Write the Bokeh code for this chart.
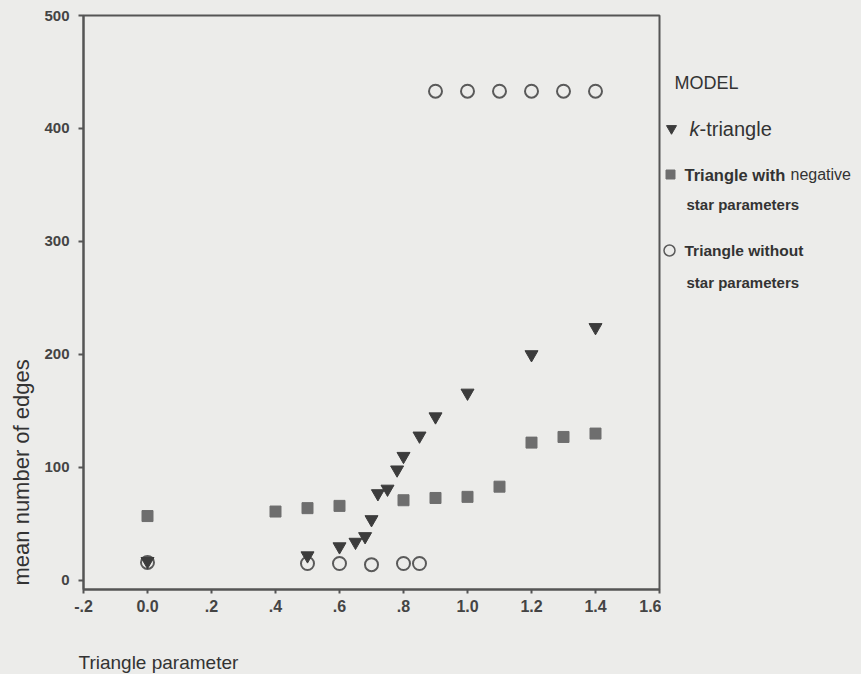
from bokeh.plotting import figure
from bokeh.models import FixedTicker, Range1d
from bokeh.layouts import row, column
from bokeh.core.properties import value
from bokeh.embed import file_html
from bokeh.resources import INLINE

# ---- data -------------------------------------------------------------
k_tri_x = [0.0, 0.5, 0.6, 0.65, 0.68, 0.7, 0.72, 0.75, 0.78, 0.8, 0.85, 0.9, 1.0, 1.2, 1.4]
k_tri_y = [17, 22, 30, 34, 39, 54, 77, 81, 98, 110, 128, 145, 166, 200, 224]

neg_star_x = [0.0, 0.4, 0.5, 0.6, 0.8, 0.9, 1.0, 1.1, 1.2, 1.3, 1.4]
neg_star_y = [57, 61, 64, 66, 71, 73, 74, 83, 122, 127, 130]

no_star_x = [0.0, 0.5, 0.6, 0.7, 0.8, 0.85, 0.9, 1.0, 1.1, 1.2, 1.3, 1.4]
no_star_y = [16, 15, 15, 14, 15, 15, 433, 433, 433, 433, 433, 433]

x_ticks = [-0.2, 0.0, 0.2, 0.4, 0.6, 0.8, 1.0, 1.2, 1.4, 1.6]
x_tick_labels = ["-.2", "0.0", ".2", ".4", ".6", ".8", "1.0", "1.2", "1.4", "1.6"]
y_ticks = [0, 100, 200, 300, 400, 500]

# ---- page geometry (pixels) --------------------------------------------
W, H = 861, 674
TOP_H = 640            # height of the row holding the chart
LEFT_W = 40            # strip carrying the y title
LEG_W = 200            # strip carrying the legend
MAIN_W = W - LEFT_W - LEG_W
FL, FR, FT, FB = 83, 659, 15, 589   # plot frame edges on the page

BG = "#ececea"
INK = "#3c3c3c"
SQ = "#6e6e6e"
RING = "#5a5a5a"
TXT = "#333333"
FONT = "Liberation Sans"


def strip(x0, x1, y0, y1, top=0, bottom=0):
    """A bare figure whose data coordinates are page pixels.

    (y0, y1) is the page span of its drawing frame; top/bottom are the
    empty borders above and below that frame.
    """
    f = figure(width=x1 - x0, height=(y1 - y0) + top + bottom,
               output_backend="svg", toolbar_location=None,
               x_range=Range1d(x0, x1), y_range=Range1d(y1, y0),
               x_axis_type=None, y_axis_type=None,
               min_border_left=0, min_border_right=0,
               min_border_top=top, min_border_bottom=bottom)
    f.background_fill_color = BG
    f.border_fill_color = BG
    f.outline_line_color = None
    f.grid.visible = False
    return f


def put(f, x, y, text, size, style="normal", align="left", angle=0.0, color=TXT):
    f.text(x=[x], y=[y], text=[text], text_font=value(FONT),
           text_font_size=size, text_font_style=style, text_align=align,
           text_baseline="middle", angle=angle, text_color=color)


# ---- main chart ---------------------------------------------------------
p = figure(width=MAIN_W, height=TOP_H, output_backend="svg", toolbar_location=None,
           x_range=Range1d(-0.2, 1.6), y_range=Range1d(-8, 500),
           min_border_left=FL - LEFT_W, min_border_right=LEFT_W + MAIN_W - FR,
           min_border_top=FT, min_border_bottom=TOP_H - FB)
p.background_fill_color = BG
p.border_fill_color = BG
p.outline_line_color = "#555555"
p.outline_line_width = 2
p.grid.visible = False

for ax in (p.xaxis[0], p.yaxis[0]):
    ax.axis_line_color = "#555555"
    ax.axis_line_width = 2
    ax.major_tick_line_color = "#555555"
    ax.major_tick_line_width = 2
    ax.major_tick_in = 0
    ax.minor_tick_line_color = None
    ax.major_label_text_font = FONT
    ax.major_label_text_font_style = "bold"
    ax.major_label_text_color = "#444444"

p.xaxis.ticker = FixedTicker(ticks=x_ticks)
p.xaxis.major_label_overrides = {t: s for t, s in zip(x_ticks, x_tick_labels)}
p.xaxis.major_tick_out = 4
p.xaxis.major_label_standoff = 6
p.xaxis.major_label_text_font_size = "16px"

p.yaxis.ticker = FixedTicker(ticks=y_ticks)
p.yaxis.major_tick_out = 5
p.yaxis.major_label_standoff = 9
p.yaxis.major_label_text_font_size = "15px"

p.scatter(no_star_x, no_star_y, marker="circle", size=13,
          fill_color=None, line_color=RING, line_width=2)
p.scatter(neg_star_x, neg_star_y, marker="square", size=11,
          fill_color=SQ, line_color=SQ, line_width=1)
p.scatter(k_tri_x, k_tri_y, marker="inverted_triangle", size=13,
          fill_color=INK, line_color=INK, line_width=1)

# ---- y title strip (frame lines up with the chart frame) ---------------
left = strip(0, LEFT_W, FT, FB, top=FT, bottom=TOP_H - FB)
put(left, 21, 585, "mean number of edges", "22px", angle=1.5708)

# ---- legend strip -------------------------------------------------------
leg = strip(W - LEG_W, W, FT, FB, top=FT, bottom=TOP_H - FB)
put(leg, 674, 82, "MODEL", "18px")
leg.scatter([671], [128], marker="inverted_triangle", size=10,
            fill_color=INK, line_color=INK)
put(leg, 689, 128, "k", "20px", style="italic")
put(leg, 699, 128, "-triangle", "20px")
leg.scatter([670], [174], marker="square", size=9, fill_color=SQ, line_color=SQ)
put(leg, 684, 174, "Triangle with", "16.5px", style="bold")
put(leg, 790, 174, "negative", "16px")
put(leg, 686, 204, "star parameters", "15px", style="bold")
leg.scatter([669], [250], marker="circle", size=11, fill_color=None,
            line_color=RING, line_width=1.5)
put(leg, 684, 250, "Triangle without", "15.5px", style="bold")
put(leg, 686, 282, "star parameters", "15px", style="bold")

# ---- x title strip ------------------------------------------------------
bottom = strip(0, W, TOP_H, H)
put(bottom, 78, 662, "Triangle parameter", "19px")

bg = {"background-color": BG}
page = column(row(left, p, leg, styles=bg), bottom, styles=bg)
open("out.html", "w").write(file_html(page, INLINE))
